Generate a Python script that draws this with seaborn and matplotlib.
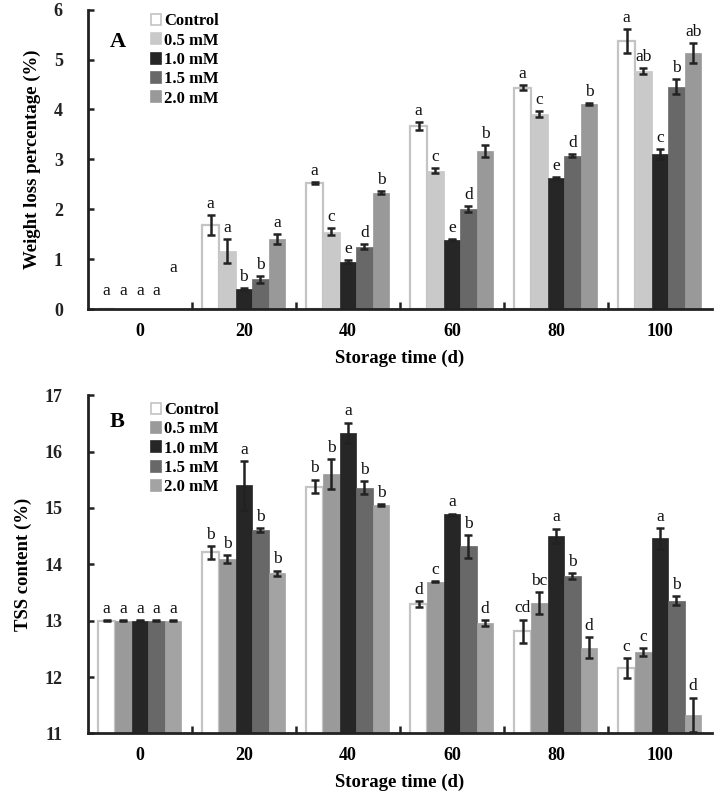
# Weight loss and TSS content of stored fruit under different treatments
import pandas            as pd
import matplotlib.pyplot as plt
import seaborn           as sns
import numpy             as np

days       = ["0", "20", "40", "60", "80", "100"]
treatments = ["Control", "0.5 mM", "1.0 mM", "1.5 mM", "2.0 mM"]

# Panel A: weight loss (%)
wl_control = [0.00, 1.68, 2.53, 3.66, 4.44, 5.38]
wl_05      = [0.00, 1.17, 1.55, 2.77, 3.91, 4.78]
wl_10      = [0.00, 0.40, 0.95, 1.39, 2.63, 3.11]
wl_15      = [0.00, 0.60, 1.25, 2.01, 3.07, 4.46]
wl_20      = [0.00, 1.41, 2.33, 3.17, 4.10, 5.14]
wl_err_control = [0.00, 0.20, 0.02, 0.08, 0.05, 0.24]
wl_err_05      = [0.00, 0.24, 0.07, 0.05, 0.06, 0.06]
wl_err_10      = [0.00, 0.02, 0.03, 0.01, 0.02, 0.10]
wl_err_15      = [0.00, 0.07, 0.05, 0.06, 0.03, 0.15]
wl_err_20      = [0.00, 0.10, 0.03, 0.12, 0.02, 0.20]
wl_letters = [
    ["a", "a", "a", "a", "a", "a"],
    ["a", "a", "c", "c", "c", "ab"],
    ["a", "b", "e", "e", "e", "c"],
    ["a", "b", "d", "d", "d", "b"],
    ["a", "a", "b", "b", "b", "ab"],
]

# Panel B: TSS content (%)
tss_control = [13.00, 14.21, 15.38, 13.29, 12.81, 12.16]
tss_05      = [13.00, 14.09, 15.60, 13.69, 13.31, 12.44]
tss_10      = [13.00, 15.40, 16.33, 14.89, 14.50, 14.46]
tss_15      = [13.00, 14.61, 15.36, 14.32, 13.79, 13.35]
tss_20      = [13.00, 13.84, 15.05, 12.96, 12.52, 11.33]
tss_err_control = [0.01, 0.11, 0.12, 0.05, 0.21, 0.17]
tss_err_05      = [0.01, 0.07, 0.27, 0.01, 0.20, 0.07]
tss_err_10      = [0.01, 0.43, 0.18, 0.01, 0.13, 0.18]
tss_err_15      = [0.01, 0.03, 0.12, 0.20, 0.05, 0.08]
tss_err_20      = [0.01, 0.05, 0.02, 0.05, 0.19, 0.30]
tss_letters = [
    ["a", "b", "b", "d", "cd", "c"],
    ["a", "b", "b", "c", "bc", "c"],
    ["a", "a", "a", "a", "a", "a"],
    ["a", "b", "b", "b", "b", "b"],
    ["a", "b", "b", "d", "d", "d"],
]

colors_a = ["#ffffff", "#c9c9c9", "#262626", "#686868", "#999999"]
colors_b = ["#ffffff", "#9a9a9a", "#262626", "#686868", "#a3a3a3"]

serif = ["Liberation Serif", "DejaVu Serif"]
plt.rcParams["font.family"] = serif


def long_df(series):
    rows = []
    for t, vals in zip(treatments, series):
        for d, v in zip(days, vals):
            rows.append({"day": d, "treatment": t, "value": v})
    return pd.DataFrame(rows)


def panel(ax, series, errs, letters, colors, ylim, ylabel, tag, tag_y,
          leg_y, zero_letters=False):
    df = long_df(series)
    sns.barplot(data=df, x="day", y="value", hue="treatment", order=days,
                hue_order=treatments, palette=colors, errorbar=None,
                width=0.8, saturation=1, ax=ax, legend=True)
    bars = list(ax.containers)
    for i, cont in enumerate(bars):
        for j, p in enumerate(cont.patches):
            if i == 0:
                p.set_edgecolor("#c4c4c4")
                p.set_linewidth(1.6)
            else:
                p.set_edgecolor(colors[i])
                p.set_linewidth(0.5)
            xc = p.get_x() + p.get_width() / 2
            val = series[i][j]
            err = errs[i][j]
            if val > ylim[0]:
                ax.errorbar(xc, val, yerr=err, fmt="none", ecolor="#222222",
                            elinewidth=1.8, capsize=3, capthick=1.8, zorder=5)
            lab = letters[i][j]
            ytxt = val + err + (ylim[1] - ylim[0]) * 0.01
            if zero_letters and val == 0:
                ytxt = 0.2 if i < 4 else 0.66
            ax.text(xc, ytxt, lab, ha="center", va="bottom", fontsize=12.5,
                    family=serif, color="#111111", zorder=6)

    ax.set_xlim(-0.5, 5.5)
    ax.set_ylim(*ylim)
    sns.despine(ax=ax)
    for s in ["left", "bottom"]:
        ax.spines[s].set_linewidth(2)
        ax.spines[s].set_color("#222222")
    ax.tick_params(axis="y", direction="in", length=4, width=1.8,
                   labelsize=13, pad=18, colors="#222222")
    ax.tick_params(axis="x", which="major", length=0, labelsize=13, pad=10)
    ax.set_xticks(np.arange(0.5, 5.0, 1.0), minor=True)
    ax.tick_params(axis="x", which="minor", direction="in", length=5, width=1.8,
                   color="#222222")
    for lbl in ax.get_xticklabels() + ax.get_yticklabels():
        lbl.set_fontweight("bold")
    ax.set_xlabel("Storage time (d)", fontsize=13.5, fontweight="bold", labelpad=7)
    ax.set_ylabel(ylabel, fontsize=13.5, fontweight="bold", labelpad=9)
    ax.text(0.035, tag_y, tag, transform=ax.transAxes, fontsize=16,
            fontweight="bold", ha="left", va="center")

    handles, labels = ax.get_legend_handles_labels()
    for h, c in zip(handles, colors):
        h.set_edgecolor("#c4c4c4" if c == "#ffffff" else c)
        h.set_linewidth(1.2)
    ax.legend(handles, labels, loc="upper left", bbox_to_anchor=(0.09, leg_y),
              frameon=False, prop={"family": serif, "weight": "bold", "size": 12},
              handlelength=0.65, handleheight=0.65, handletextpad=0.15,
              labelspacing=0.2, borderaxespad=0)


fig = plt.figure(figsize=(7.14, 8.05), dpi=100)
ax_a = fig.add_axes([0.123, 0.616, 0.874, 0.372])
ax_b = fig.add_axes([0.123, 0.089, 0.874, 0.420])

panel(ax_a, [wl_control, wl_05, wl_10, wl_15, wl_20],
      [wl_err_control, wl_err_05, wl_err_10, wl_err_15, wl_err_20],
      wl_letters, colors_a, (0, 6), "Weight loss percentage (%)", "A",
      0.893, 1.01, zero_letters=True)
panel(ax_b, [tss_control, tss_05, tss_10, tss_15, tss_20],
      [tss_err_control, tss_err_05, tss_err_10, tss_err_15, tss_err_20],
      tss_letters, colors_b, (11, 17), "TSS content (%)", "B",
      0.92, 1.0)

fig.savefig("out.png", dpi=100)
